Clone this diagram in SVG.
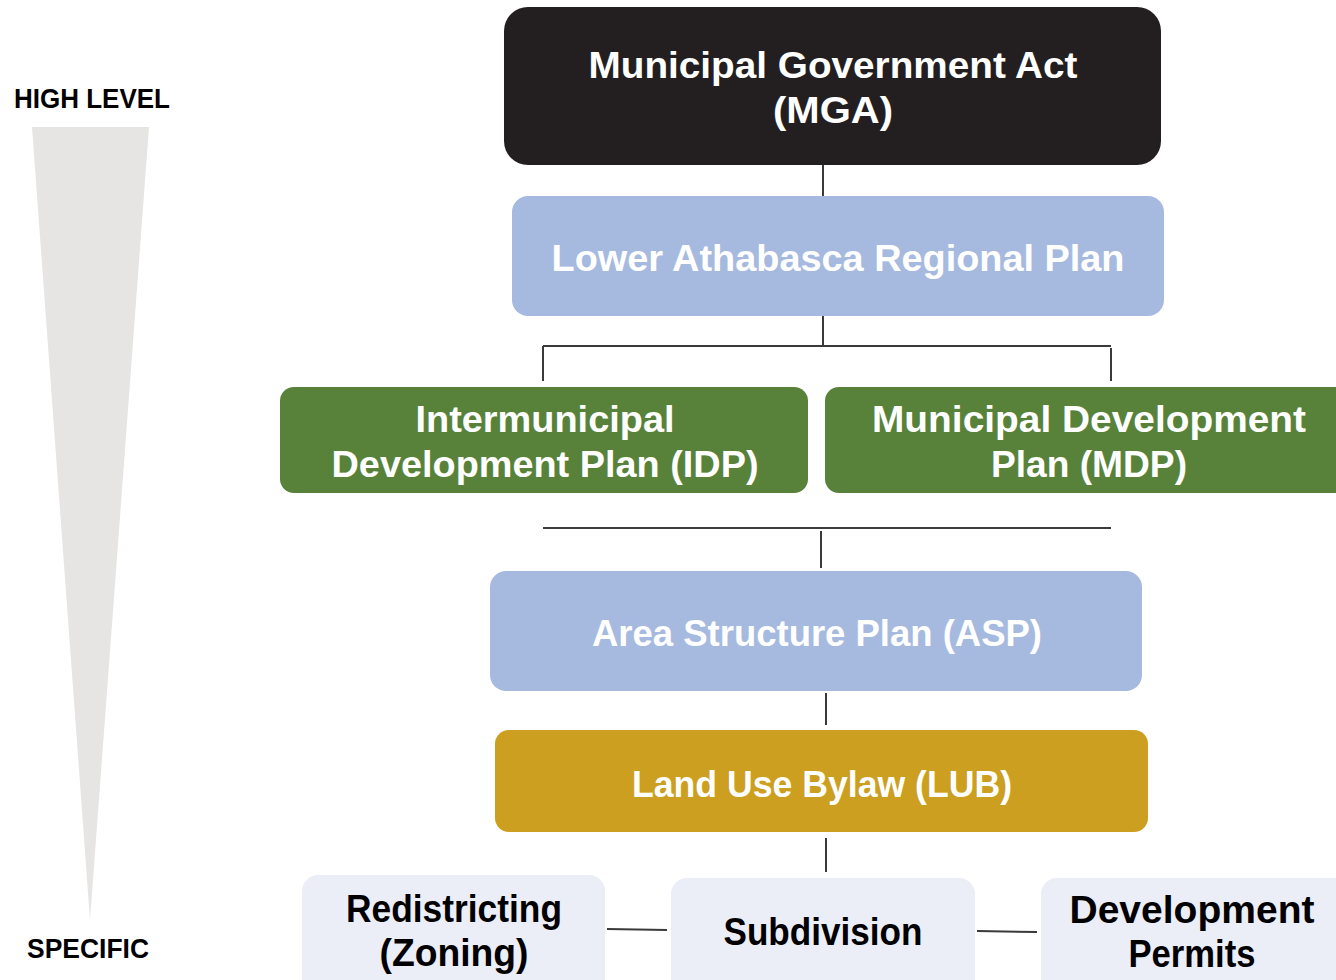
<svg xmlns="http://www.w3.org/2000/svg" width="1336" height="980" viewBox="0 0 1336 980">
<style>
.t{font-family:"Liberation Sans",Arial,sans-serif;font-weight:bold;text-anchor:middle}
.w{fill:#ffffff;font-size:37px}
.k{fill:#000000;font-size:38px}
.side{font-family:"Liberation Sans",Arial,sans-serif;font-weight:bold;fill:#000;font-size:27px}
.c{stroke:#3a3a3a;stroke-width:2;fill:none}
</style>
<rect width="1336" height="980" fill="#ffffff"/>
<polygon points="32,127 149,127 90,920" fill="#e6e5e3"/>
<text class="side" x="14" y="108" textLength="156" lengthAdjust="spacingAndGlyphs">HIGH LEVEL</text>
<text class="side" x="27" y="958" textLength="122" lengthAdjust="spacingAndGlyphs">SPECIFIC</text>
<g id="connectors">
<line class="c" x1="823" y1="165" x2="823" y2="196"/>
<line class="c" x1="823" y1="316" x2="823" y2="346"/>
<line class="c" x1="543" y1="346" x2="1111" y2="346"/>
<line class="c" x1="543" y1="346" x2="543" y2="381"/>
<line class="c" x1="1111" y1="348" x2="1111" y2="381"/>
<line class="c" x1="543" y1="528" x2="1111" y2="528"/>
<line class="c" x1="821" y1="531" x2="821" y2="568"/>
<line class="c" x1="826" y1="693" x2="826" y2="725"/>
<line class="c" x1="826" y1="838" x2="826" y2="872"/>
<line class="c" x1="607" y1="929" x2="667" y2="930"/>
<line class="c" x1="977" y1="931" x2="1037" y2="932"/>
</g>
<g id="mga">
<rect x="504" y="7" width="657" height="158" rx="24" fill="#231f20"/>
<text class="t w" x="833" y="78" textLength="489" lengthAdjust="spacingAndGlyphs">Municipal Government Act</text>
<text class="t w" x="833" y="123" textLength="120" lengthAdjust="spacingAndGlyphs">(MGA)</text>
</g>
<g id="larp">
<rect x="512" y="196" width="652" height="120" rx="16" fill="#a6badf"/>
<text class="t w" x="838" y="271" textLength="573" lengthAdjust="spacingAndGlyphs">Lower Athabasca Regional Plan</text>
</g>
<g id="idp">
<rect x="280" y="387" width="528" height="106" rx="14" fill="#58823a"/>
<text class="t w" x="545" y="432" textLength="259" lengthAdjust="spacingAndGlyphs">Intermunicipal</text>
<text class="t w" x="545" y="477" textLength="427" lengthAdjust="spacingAndGlyphs">Development Plan (IDP)</text>
</g>
<g id="mdp">
<rect x="825" y="387" width="540" height="106" rx="14" fill="#58823a"/>
<text class="t w" x="1089" y="432" textLength="434" lengthAdjust="spacingAndGlyphs">Municipal Development</text>
<text class="t w" x="1089" y="477" textLength="196" lengthAdjust="spacingAndGlyphs">Plan (MDP)</text>
</g>
<g id="asp">
<rect x="490" y="571" width="652" height="120" rx="16" fill="#a6badf"/>
<text class="t w" x="817" y="646" textLength="450" lengthAdjust="spacingAndGlyphs">Area Structure Plan (ASP)</text>
</g>
<g id="lub">
<rect x="495" y="730" width="653" height="102" rx="14" fill="#cc9f20"/>
<text class="t w" x="822" y="797" textLength="380" lengthAdjust="spacingAndGlyphs">Land Use Bylaw (LUB)</text>
</g>
<g id="redistricting">
<rect x="302" y="875" width="303" height="130" rx="16" fill="#ebeef7"/>
<text class="t k" x="454" y="922" textLength="216" lengthAdjust="spacingAndGlyphs">Redistricting</text>
<text class="t k" x="454" y="966" textLength="149" lengthAdjust="spacingAndGlyphs">(Zoning)</text>
</g>
<g id="subdivision">
<rect x="671" y="878" width="304" height="130" rx="16" fill="#ebeef7"/>
<text class="t k" x="823" y="945" textLength="199" lengthAdjust="spacingAndGlyphs">Subdivision</text>
</g>
<g id="permits">
<rect x="1041" y="878" width="310" height="130" rx="16" fill="#ebeef7"/>
<text class="t k" x="1192" y="923" textLength="245" lengthAdjust="spacingAndGlyphs">Development</text>
<text class="t k" x="1192" y="967" textLength="127" lengthAdjust="spacingAndGlyphs">Permits</text>
</g>
</svg>
